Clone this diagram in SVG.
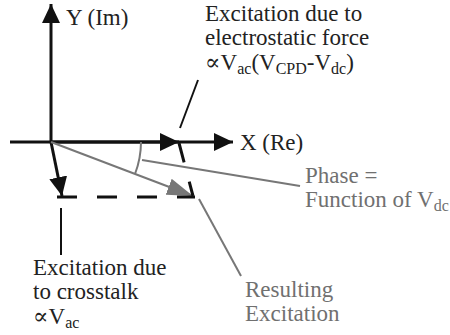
<svg xmlns="http://www.w3.org/2000/svg" width="450" height="335" viewBox="0 0 450 335">
  <defs>
    <style>
      .t { font-family: "Liberation Serif", "DejaVu Serif", serif; font-size: 23px; fill: #222; }
      .g { fill: #707070; }
      .sub { font-size: 16px; }
      .blk { stroke: #111; stroke-width: 3; fill: none; }
      .thin { stroke: #111; stroke-width: 2; fill: none; }
      .gry { stroke: #777; stroke-width: 2; fill: none; }
      .dash { stroke: #111; stroke-width: 3; fill: none; stroke-dasharray: 20 20; }
    </style>
    <marker id="ab" markerUnits="userSpaceOnUse" markerWidth="19" markerHeight="18" refX="19" refY="9" orient="auto" viewBox="0 0 19 18">
      <path d="M0,0 L19,9 L0,18 z" fill="#111"/>
    </marker>
    <marker id="ag" markerUnits="userSpaceOnUse" markerWidth="26" markerHeight="17" refX="26" refY="8.5" orient="auto" viewBox="0 0 26 17">
      <path d="M0,0 L26,8.5 L0,17 z" fill="#777"/>
    </marker>
  </defs>

  <g id="connectors">
    <!-- axes -->
    <line class="blk" x1="51" y1="143" x2="51" y2="4" marker-end="url(#ab)"/>
    <line class="blk" x1="10" y1="142" x2="233" y2="142" marker-end="url(#ab)"/>
    <!-- electrostatic vector -->
    <line class="blk" x1="51" y1="142" x2="179" y2="142" marker-end="url(#ab)"/>
    <!-- crosstalk vector -->
    <line class="blk" x1="51" y1="142" x2="62" y2="196" marker-end="url(#ab)"/>
    <!-- resulting vector -->
    <line class="gry" x1="51" y1="142" x2="193" y2="196" marker-end="url(#ag)"/>
    <!-- dashed completions -->
    <line class="dash" x1="57" y1="197" x2="195" y2="197"/>
    <line class="dash" x1="179" y1="143" x2="193" y2="196" stroke-dasharray="18 19"/>
    <!-- phase arc -->
    <path class="gry" d="M141,142 A90,90 0 0 1 135,174"/>
    <!-- leaders -->
    <line class="thin" x1="198" y1="80" x2="180" y2="128"/>
    <line class="thin" x1="61" y1="208" x2="61" y2="255"/>
    <line class="gry" x1="142" y1="160" x2="300" y2="186"/>
    <line class="gry" x1="199" y1="199" x2="241" y2="276"/>
  </g>

  <g id="y-label"><text class="t" x="66" y="25">Y (Im)</text></g>
  <g id="x-label"><text class="t" x="240" y="150">X (Re)</text></g>

  <g id="electrostatic-label">
    <text class="t" x="205" y="21">Excitation due to</text>
    <text class="t" x="205" y="45">electrostatic force</text>
    <text class="t" x="205" y="70">∝V<tspan class="sub" dy="4">ac</tspan><tspan dy="-4">(V</tspan><tspan class="sub" dy="4">CPD</tspan><tspan dy="-4">-V</tspan><tspan class="sub" dy="4">dc</tspan><tspan dy="-4">)</tspan></text>
  </g>

  <g id="crosstalk-label">
    <text class="t" x="33" y="275">Excitation due</text>
    <text class="t" x="33" y="299">to crosstalk</text>
    <text class="t" x="33" y="324">∝V<tspan class="sub" dy="4">ac</tspan></text>
  </g>

  <g id="phase-label">
    <text class="t g" x="305" y="183">Phase =</text>
    <text class="t g" x="305" y="207">Function of V<tspan class="sub" dy="4">dc</tspan></text>
  </g>

  <g id="resulting-label">
    <text class="t g" x="245" y="297">Resulting</text>
    <text class="t g" x="245" y="321">Excitation</text>
  </g>
</svg>
